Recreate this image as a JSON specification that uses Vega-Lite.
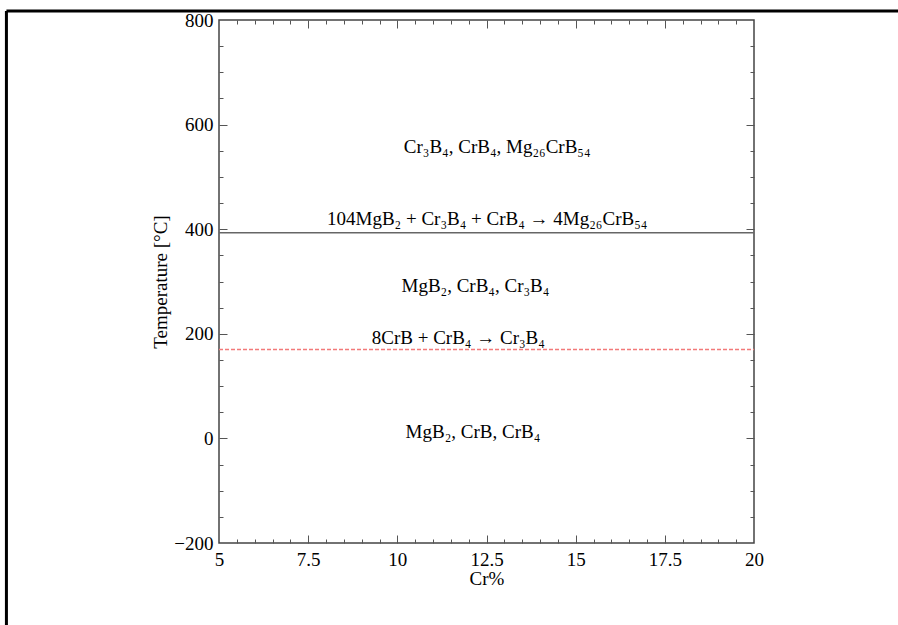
{
  "$schema": "https://vega.github.io/schema/vega-lite/v6.json",
  "width": 535,
  "height": 523,
  "autosize": "none",
  "padding": {"left": 219, "top": 20, "right": 144, "bottom": 82},
  "background": "white",
  "config": {
    "view": {"stroke": "#444", "strokeWidth": 1.5},
    "font": "Liberation Serif",
    "axis": {
      "labelFont": "Liberation Serif",
      "titleFont": "Liberation Serif",
      "labelFontSize": 19,
      "titleFontSize": 19,
      "labelColor": "black",
      "titleColor": "black",
      "titleFontWeight": "normal",
      "domain": false,
      "grid": false,
      "tickColor": "#555",
      "tickWidth": 1
    }
  },
  "datasets": {
    "labels": [
      {"cr": 12.8, "T": 557, "phase": "Cr₃B₄, CrB₄, Mg₂₆CrB₅₄"},
      {"cr": 12.52, "T": 420, "phase": "104MgB₂ + Cr₃B₄ + CrB₄ → 4Mg₂₆CrB₅₄"},
      {"cr": 12.19, "T": 291, "phase": "MgB₂, CrB₄, Cr₃B₄"},
      {"cr": 11.71, "T": 192, "phase": "8CrB + CrB₄ → Cr₃B₄"},
      {"cr": 12.12, "T": 12, "phase": "MgB₂, CrB, CrB₄"}
    ],
    "lines": [
      {"reaction": "104MgB2 + Cr3B4 + CrB4 → 4Mg26CrB54", "cr_start": 5, "cr_end": 20, "T": 393},
      {"reaction": "8CrB + CrB4 → Cr3B4", "cr_start": 5, "cr_end": 20, "T": 170}
    ],
    "frame": [
      {"side": "top", "x1": -0.96, "x2": 30, "y1": 817, "y2": 817},
      {"side": "left", "x1": -0.96, "x2": -0.96, "y1": 817, "y2": -400}
    ]
  },
  "layer": [
    {
      "data": {"name": "frame"},
      "mark": {"type": "rule", "color": "black", "strokeWidth": 3, "clip": false},
      "encoding": {
        "x": {"field": "x1", "type": "quantitative", "scale": {"domain": [5, 20], "nice": false, "zero": false}, "axis": null},
        "x2": {"field": "x2"},
        "y": {"field": "y1", "type": "quantitative", "scale": {"domain": [-200, 800], "nice": false, "zero": false}, "axis": null},
        "y2": {"field": "y2"}
      }
    },
    {
      "data": {"name": "lines"},
      "mark": {"type": "rule", "strokeWidth": 1.5},
      "encoding": {
        "x": {"field": "cr_start", "type": "quantitative", "axis": null},
        "x2": {"field": "cr_end"},
        "y": {"field": "T", "type": "quantitative", "axis": null},
        "color": {"field": "reaction", "type": "nominal", "legend": null, "scale": {"domain": ["104MgB2 + Cr3B4 + CrB4 → 4Mg26CrB54", "8CrB + CrB4 → Cr3B4"], "range": ["#666666", "#f27a7a"]}},
        "strokeDash": {"field": "reaction", "type": "nominal", "legend": null, "scale": {"domain": ["104MgB2 + Cr3B4 + CrB4 → 4Mg26CrB54", "8CrB + CrB4 → Cr3B4"], "range": [[1, 0], [4, 2]]}},
        "strokeWidth": {"field": "reaction", "type": "nominal", "legend": null, "scale": {"domain": ["104MgB2 + Cr3B4 + CrB4 → 4Mg26CrB54", "8CrB + CrB4 → Cr3B4"], "range": [1.6, 1]}}
      }
    },
    {
      "data": {"name": "labels"},
      "mark": {"type": "text", "font": "Liberation Serif, DejaVu Serif", "fontSize": 19, "color": "black", "align": "center", "baseline": "middle"},
      "encoding": {
        "x": {"field": "cr", "type": "quantitative", "axis": {"orient": "bottom", "ticks": false, "labelPadding": 7, "labelFlush": false, "values": [5, 7.5, 10, 12.5, 15, 17.5, 20], "format": ".3~g", "title": "Cr%", "titlePadding": 0}},
        "y": {"field": "T", "type": "quantitative", "axis": {"orient": "left", "ticks": false, "labelPadding": 6, "labelFlush": false, "values": [-200, 0, 200, 400, 600, 800], "format": "d", "title": "Temperature [°C]", "titlePadding": 3}},
        "text": {"field": "phase"}
      }
    },
    {
      "data": {"name": "labels"},
      "mark": {"type": "point", "opacity": 0},
      "encoding": {
        "x": {"field": "cr", "type": "quantitative", "axis": {"orient": "bottom", "values": [7.5, 10, 12.5, 15, 17.5], "tickSize": -8, "labels": false, "title": null}},
        "y": {"field": "T", "type": "quantitative", "axis": {"orient": "left", "values": [0, 200, 400, 600], "tickSize": -8, "labels": false, "title": null}}
      }
    },
    {
      "data": {"name": "labels"},
      "mark": {"type": "point", "opacity": 0},
      "encoding": {
        "x": {"field": "cr", "type": "quantitative", "axis": {"orient": "bottom", "values": [5.5, 6, 6.5, 7, 8, 8.5, 9, 9.5, 10.5, 11, 11.5, 12, 13, 13.5, 14, 14.5, 15.5, 16, 16.5, 17, 18, 18.5, 19, 19.5], "tickSize": -4, "labels": false, "title": null}},
        "y": {"field": "T", "type": "quantitative", "axis": {"orient": "left", "values": [-150, -100, -50, 50, 100, 150, 250, 300, 350, 450, 500, 550, 650, 700, 750], "tickSize": -4, "labels": false, "title": null}}
      }
    },
    {
      "data": {"name": "labels"},
      "mark": {"type": "point", "opacity": 0},
      "encoding": {
        "x": {"field": "cr", "type": "quantitative", "axis": {"orient": "top", "values": [7.5, 10, 12.5, 15, 17.5], "tickSize": -8, "labels": false, "title": null}},
        "y": {"field": "T", "type": "quantitative", "axis": {"orient": "right", "values": [0, 200, 400, 600], "tickSize": -8, "labels": false, "title": null}}
      }
    },
    {
      "data": {"name": "labels"},
      "mark": {"type": "point", "opacity": 0},
      "encoding": {
        "x": {"field": "cr", "type": "quantitative", "axis": {"orient": "top", "values": [5.5, 6, 6.5, 7, 8, 8.5, 9, 9.5, 10.5, 11, 11.5, 12, 13, 13.5, 14, 14.5, 15.5, 16, 16.5, 17, 18, 18.5, 19, 19.5], "tickSize": -4, "labels": false, "title": null}},
        "y": {"field": "T", "type": "quantitative", "axis": {"orient": "right", "values": [-150, -100, -50, 50, 100, 150, 250, 300, 350, 450, 500, 550, 650, 700, 750], "tickSize": -4, "labels": false, "title": null}}
      }
    }
  ],
  "resolve": {"axis": {"x": "independent", "y": "independent"}}
}
